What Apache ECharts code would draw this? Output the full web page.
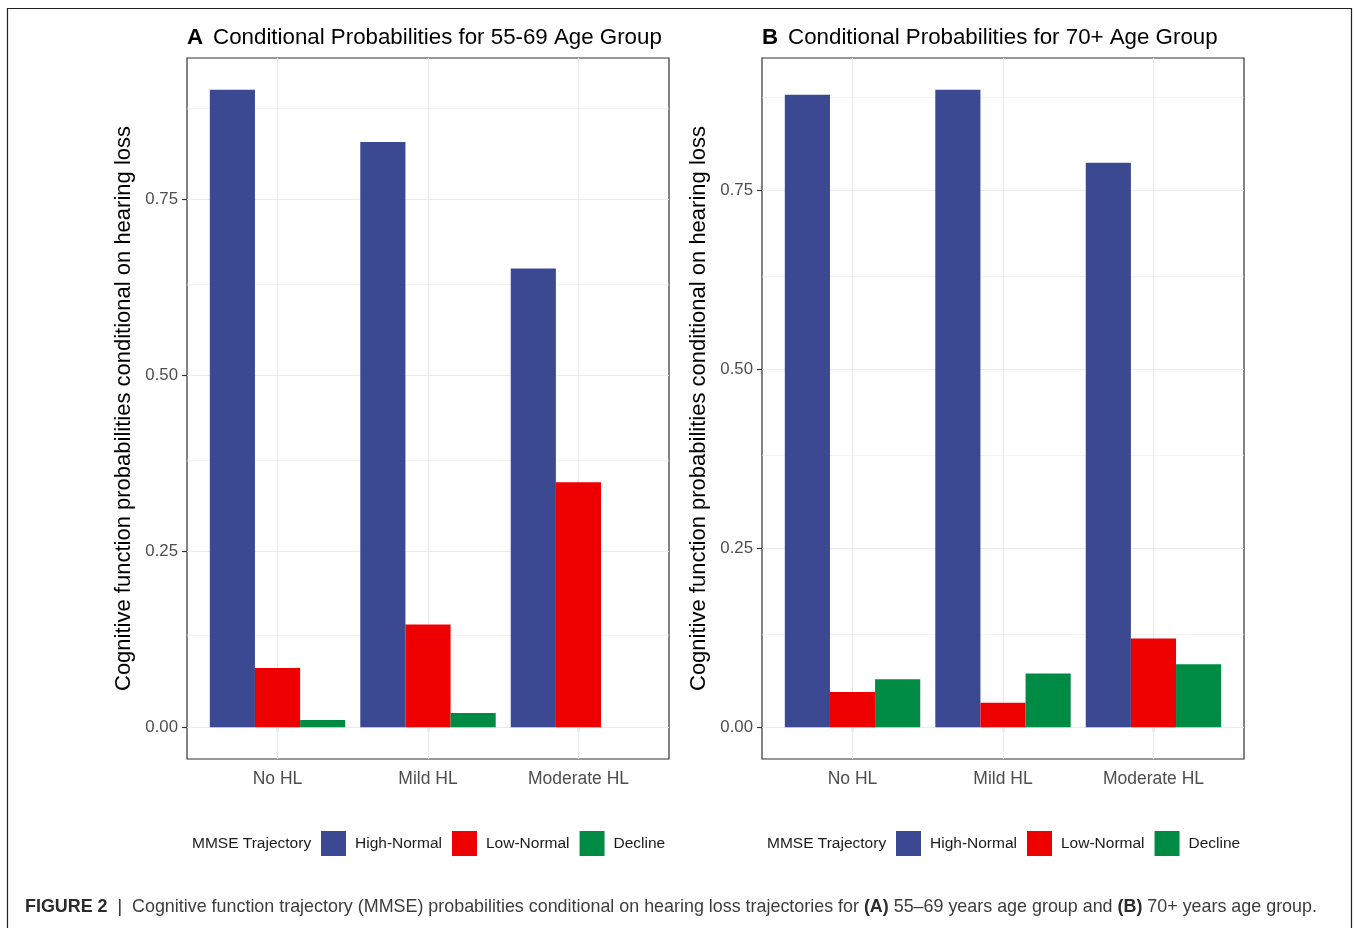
<!DOCTYPE html>
<html>
<head>
<meta charset="utf-8">
<script src="https://cdn.jsdelivr.net/npm/echarts@6/dist/echarts.min.js"></script>
<style>
  html, body { margin: 0; padding: 0; background: #fff; }
  #main { width: 1354px; height: 928px; }
</style>
</head>
<body>
<div id="main"></div>
<script>
// 数据
var categories = ['No HL', 'Mild HL', 'Moderate HL'];
var seriesNames = ['High-Normal', 'Low-Normal', 'Decline'];
var colors = ['#3B4992', '#EE0000', '#008B45'];
// 55-69 岁组
var highA = [0.906, 0.832, 0.652];
var lowA = [0.084, 0.146, 0.348];
var declineA = [0.010, 0.020, 0.000];
// 70+ 岁组
var highB = [0.884, 0.891, 0.789];
var lowB = [0.049, 0.034, 0.124];
var declineB = [0.067, 0.075, 0.088];
// 刻度
var yTicks = [0, 0.25, 0.5, 0.75];
var yMinor = [0.125, 0.375, 0.625, 0.875];
var xCenters = [1, 2, 3];

var font = '"Liberation Sans", Arial, sans-serif';
var chart = echarts.init(document.getElementById('main'));

// ggplot 默认 5% 扩展
function yRange(arrs) {
    var m = Math.max.apply(Math, [].concat.apply([], arrs));
    return [-m * 0.05, m * 1.05];
}
var rA = yRange([highA, lowA, declineA]);
var rB = yRange([highB, lowB, declineB]);

function gridLines() {
    var d = [];
    yTicks.forEach(function (v) { d.push({ yAxis: v, lineStyle: { width: 1.1 } }); });
    yMinor.forEach(function (v) { d.push({ yAxis: v, lineStyle: { width: 0.6 } }); });
    xCenters.forEach(function (v) { d.push({ xAxis: v, lineStyle: { width: 1.1 } }); });
    return d;
}

function panelAxes(outerIdx, innerIdx, range) {
    var xs = [{
        gridIndex: outerIdx, type: 'value', min: 0.4, max: 3.6,
        axisLine: { show: false }, axisTick: { show: false }, axisLabel: { show: false }, splitLine: { show: false }
    }, {
        gridIndex: innerIdx, type: 'category', data: categories,
        axisLine: { show: false },
        axisTick: { show: true, alignWithLabel: true, length: 5, lineStyle: { color: '#333', width: 1.2 } },
        axisLabel: { color: '#4d4d4d', fontSize: 17.5, fontFamily: font, margin: 11 },
        splitLine: { show: false }
    }];
    var ys = [{
        gridIndex: outerIdx, type: 'value', min: range[0], max: range[1],
        name: 'Cognitive function probabilities conditional on hearing loss',
        nameLocation: 'middle', nameGap: 52,
        nameTextStyle: { color: '#000', fontSize: 22, fontFamily: font },
        axisLine: { show: false },
        axisTick: { show: true, customValues: yTicks, length: 5, lineStyle: { color: '#333', width: 1.2 } },
        axisLabel: { customValues: yTicks, color: '#4d4d4d', fontSize: 16.8, fontFamily: font, margin: 9,
            formatter: function (v) { return v.toFixed(2); } },
        splitLine: { show: false }
    }, {
        gridIndex: innerIdx, type: 'value', min: range[0], max: range[1], show: false,
        splitLine: { show: false }
    }];
    return { x: xs, y: ys };
}

var axA = panelAxes(0, 1, rA);
var axB = panelAxes(2, 3, rB);

function barSeries(axisIdx, data) {
    return data.map(function (vals, i) {
        return {
            name: seriesNames[i], type: 'bar', xAxisIndex: axisIdx, yAxisIndex: axisIdx,
            data: vals, barGap: '0%', barCategoryGap: '10%', zlevel: 1, z: 3,
            itemStyle: { color: colors[i] }
        };
    });
}

function gridSeries(axisIdx) {
    return {
        type: 'line', xAxisIndex: axisIdx, yAxisIndex: axisIdx, data: [], z: 1, silent: true,
        markLine: {
            silent: true, symbol: 'none', label: { show: false }, animation: false,
            lineStyle: { color: '#ebebeb', type: 'solid' },
            data: gridLines()
        }
    };
}

function legendFor(left) {
    return {
        left: left, top: 826, itemWidth: 25, itemHeight: 25, itemGap: 10,
        icon: 'rect', data: seriesNames,
        textStyle: { color: '#1a1a1a', fontSize: 15.5, fontFamily: font, padding: [0, 0, 0, 4] }
    };
}

function titleFor(left, letter, text) {
    return {
        left: left, top: 22,
        text: '{b|' + letter + '}  {n|' + text + '}',
        textStyle: {
            fontWeight: 'normal',
            rich: {
                b: { fontSize: 22.3, fontWeight: 'bold', color: '#000', fontFamily: font },
                n: { fontSize: 22.3, fontWeight: 'normal', color: '#000', fontFamily: font }
            }
        }
    };
}

var option = {
    animation: false,
    backgroundColor: '#fff',
    title: [
        titleFor(182, 'A', 'Conditional Probabilities for 55-69 Age Group'),
        titleFor(757, 'B', 'Conditional Probabilities for 70+ Age Group')
    ],
    legend: [legendFor(316), legendFor(891)],
    grid: [
        { left: 187, top: 58, width: 482, height: 701, show: true, borderColor: '#333', borderWidth: 1.2, backgroundColor: 'transparent' },
        { left: 202.3, top: 58, width: 451.4, height: 701 },
        { left: 762, top: 58, width: 482, height: 701, show: true, borderColor: '#333', borderWidth: 1.2, backgroundColor: 'transparent' },
        { left: 777.3, top: 58, width: 451.4, height: 701 }
    ],
    xAxis: axA.x.concat(axB.x),
    yAxis: axA.y.concat(axB.y),
    series: [gridSeries(0)]
        .concat(barSeries(1, [highA, lowA, declineA]))
        .concat([gridSeries(2)])
        .concat(barSeries(3, [highB, lowB, declineB])),
    graphic: [
        { type: 'rect', shape: { x: 7.5, y: 8.5, width: 1344, height: 960 }, style: { fill: 'none', stroke: '#222', lineWidth: 1.2 }, silent: true, z: 0 },
        { type: 'text', x: 192, y: 844, style: { text: 'MMSE Trajectory', fill: '#1a1a1a', fontSize: 15.5, fontFamily: font, verticalAlign: 'middle' } },
        { type: 'text', x: 767, y: 844, style: { text: 'MMSE Trajectory', fill: '#1a1a1a', fontSize: 15.5, fontFamily: font, verticalAlign: 'middle' } },
        {
            type: 'text', x: 25, y: 907,
            style: {
                text: '{b|FIGURE 2}{s|  |  }{n|Cognitive function trajectory (MMSE) probabilities conditional on hearing loss trajectories for }{b|(A)}{n| 55–69 years age group and }{b|(B)}{n| 70+ years age group.}',
                verticalAlign: 'middle',
                rich: {
                    b: { fontSize: 17.9, fontWeight: 'bold', fill: '#2b2b2b', fontFamily: font },
                    s: { fontSize: 17.9, fill: '#2b2b2b', fontFamily: font },
                    n: { fontSize: 17.9, fill: '#3c3c3c', fontFamily: font }
                }
            }
        }
    ]
};
chart.setOption(option);
</script>
</body>
</html>
